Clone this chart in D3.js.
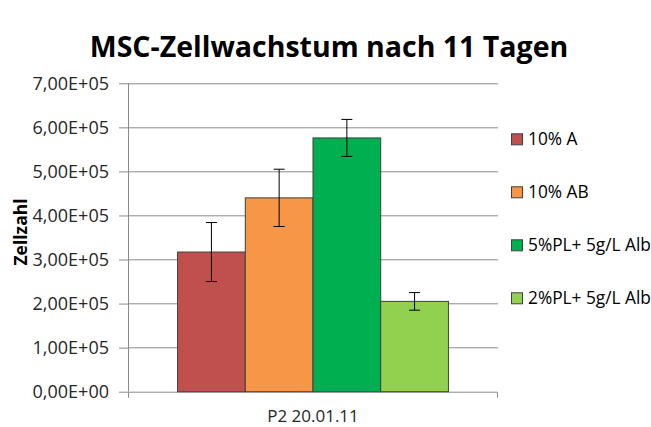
<!DOCTYPE html>
<html lang="de">
<head>
<meta charset="UTF-8">
<title>MSC-Zellwachstum nach 11 Tagen</title>
<script src="https://d3js.org/d3.v7.min.js"></script>
<style>
    body { margin: 0; background: #fff; }
    svg { display: block; font-family: "Open Sans", "Liberation Sans", sans-serif; }
</style>
</head>
<body>
<main></main>
<script>
// data
var groups = ['P2 20.01.11'];
var seriesNames = ['10% A', '10% AB', '5%PL+ 5g/L Alb', '2%PL+ 5g/L Alb'];
var seriesValues = [317000, 440000, 576000, 205000];
var seriesErrors = [67000, 65000, 42000, 20000];
var seriesColors = ['#C0504D', '#F79646', '#00B050', '#92D050'];
var yTicks = [0, 100000, 200000, 300000, 400000, 500000, 600000, 700000];

var W = 651, H = 427;
var m = {top: 83.3, left: 128, right: 153, bottom: 35.3};
var w = W - m.left - m.right, h = H - m.top - m.bottom;

var svg = d3.select('main').append('svg')
    .attr('width', W)
    .attr('height', H);

// title
svg.append('text')
    .attr('x', 329).attr('y', 57)
    .attr('text-anchor', 'middle')
    .style('font-size', '28.5px')
    .attr('font-weight', 'bold')
    .attr('fill', '#000')
    .text('MSC-Zellwachstum nach 11 Tagen');

var g = svg.append('g').attr('transform', 'translate(' + m.left + ',' + m.top + ')');

var y = d3.scaleLinear().domain([0, 700000]).range([h, 0]);
var x0 = d3.scaleBand().domain(groups).range([0, w]).paddingInner(0).paddingOuter(0.183);
var x1 = d3.scaleBand().domain(seriesNames).range([0, x0.bandwidth()]).padding(0);

var fmt = function(v) {
    // 7,00E+05 style
    var s = v.toExponential(2).replace('.', ',');
    var parts = s.split('e');
    var ex = parseInt(parts[1], 10);
    return parts[0] + 'E' + (ex < 0 ? '-' : '+') + (Math.abs(ex) < 10 ? '0' : '') + Math.abs(ex);
};

// gridlines
g.append('g').selectAll('line')
    .data(yTicks.slice(1))
    .enter().append('line')
    .attr('x1', 0).attr('x2', w)
    .attr('y1', function(d) { return Math.round(y(d)) + 0.5; })
    .attr('y2', function(d) { return Math.round(y(d)) + 0.5; })
    .attr('stroke', '#8a8a8a')
    .attr('stroke-width', 1);

// y axis
var yAxis = g.append('g')
    .call(d3.axisLeft(y).tickValues(yTicks).tickFormat(fmt).tickSize(9).tickPadding(10));
yAxis.select('.domain').attr('stroke', '#8a8a8a').attr('d', 'M0.5,0V' + h);
yAxis.selectAll('.tick line').attr('stroke', '#8a8a8a');
yAxis.selectAll('.tick text')
    .style('font-size', '18px')
    .style('font-family', '"Open Sans", sans-serif')
    .attr('fill', '#262626');

// x axis
var xAxis = g.append('g')
    .attr('transform', 'translate(0,' + h + ')')
    .call(d3.axisBottom(x0).tickSize(0).tickPadding(18));
xAxis.select('.domain').attr('stroke', '#8a8a8a').attr('d', 'M0.5,6V0.5H' + (w - 0.5) + 'V6');
xAxis.selectAll('.tick text')
    .style('font-size', '17px')
    .style('font-family', '"Open Sans", sans-serif')
    .attr('fill', '#262626');

// bars
var bars = g.append('g').selectAll('g')
    .data(groups)
    .enter().append('g')
    .attr('transform', function(d) { return 'translate(' + x0(d) + ',0)'; });

bars.selectAll('rect')
    .data(seriesNames.map(function(n, i) { return {name: n, value: seriesValues[i], err: seriesErrors[i], color: seriesColors[i]}; }))
    .enter().append('rect')
    .attr('x', function(d) { return x1(d.name); })
    .attr('y', function(d) { return y(d.value); })
    .attr('width', x1.bandwidth())
    .attr('height', function(d) { return h - y(d.value); })
    .attr('fill', function(d) { return d.color; })
    .attr('stroke', '#404040')
    .attr('stroke-width', 1);

// error bars
var eb = bars.selectAll('g.err')
    .data(seriesNames.map(function(n, i) { return {name: n, value: seriesValues[i], err: seriesErrors[i]}; }))
    .enter().append('g').attr('class', 'err')
    .attr('stroke', '#000')
    .attr('stroke-width', 1);
eb.append('line')
    .attr('x1', function(d) { return x1(d.name) + x1.bandwidth() / 2; })
    .attr('x2', function(d) { return x1(d.name) + x1.bandwidth() / 2; })
    .attr('y1', function(d) { return y(d.value + d.err); })
    .attr('y2', function(d) { return y(d.value - d.err); });
eb.append('line')
    .attr('x1', function(d) { return x1(d.name) + x1.bandwidth() / 2 - 5.5; })
    .attr('x2', function(d) { return x1(d.name) + x1.bandwidth() / 2 + 5.5; })
    .attr('y1', function(d) { return y(d.value + d.err); })
    .attr('y2', function(d) { return y(d.value + d.err); });
eb.append('line')
    .attr('x1', function(d) { return x1(d.name) + x1.bandwidth() / 2 - 5.5; })
    .attr('x2', function(d) { return x1(d.name) + x1.bandwidth() / 2 + 5.5; })
    .attr('y1', function(d) { return y(d.value - d.err); })
    .attr('y2', function(d) { return y(d.value - d.err); });

// y axis label
svg.append('text')
    .attr('transform', 'translate(27,232) rotate(-90)')
    .attr('text-anchor', 'middle')
    .style('font-size', '17.5px')
    .attr('font-weight', 'bold')
    .attr('fill', '#000')
    .text('Zellzahl');

// legend
var legend = svg.append('g').attr('id', 'legend');
var item = legend.selectAll('g')
    .data(seriesNames)
    .enter().append('g')
    .attr('transform', function(d, i) { return 'translate(511,' + (139.3 + i * 53) + ')'; });
item.append('rect')
    .attr('x', 0.5).attr('y', -5.5)
    .attr('width', 11).attr('height', 11)
    .attr('fill', function(d, i) { return seriesColors[i]; })
    .attr('stroke', '#404040');
item.append('text')
    .attr('x', 17).attr('y', 6)
    .style('font-size', '17.3px')
    .attr('fill', '#000')
    .text(function(d) { return d; });
</script>
</body>
</html>
